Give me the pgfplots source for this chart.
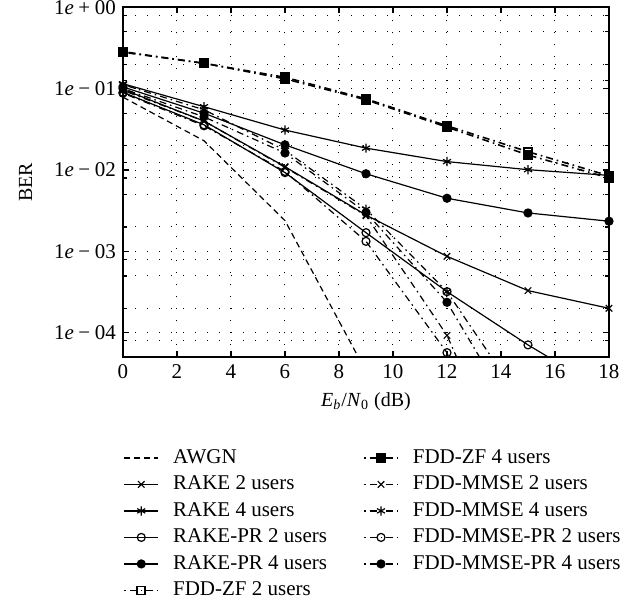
\documentclass[border=0pt]{standalone}
\usepackage{fontspec}
\setmainfont{Liberation Serif}
\usepackage{pgfplots}
\pgfplotsset{compat=1.18}
\newcommand{\ylab}[2]{1\textit{e}\kern.22em#1\kern.22em#2}
\begin{document}
\begin{tikzpicture}
\useasboundingbox (-61.5pt,-122.5pt) rectangle (257.5pt,178.65pt);
\begin{axis}[
  at={(0,0)}, anchor=south west,
  scale only axis, width=243pt, height=175pt,
  xmin=0, xmax=18, ymode=log, ymin=5e-5, ymax=1,
  xtick={0,2,...,18},
  ytick={1e-4,1e-3,1e-2,1e-1,1},
  yticklabels={\ylab{−}{04},\ylab{−}{03},\ylab{−}{02},\ylab{−}{01},\ylab{+}{00}},
  minor ytick={0.8,0.5,0.2,0.125,0.05,0.02,0.0125,0.008,0.005,0.002,8e-4,5e-4,2e-4,8e-5},
  xmajorgrids, ymajorgrids, yminorgrids,
  grid style={black, line width=0.5pt, dash pattern=on 0.5pt off 5.5pt},
  minor grid style={black, line width=0.5pt, dash pattern=on 0.5pt off 5.5pt},
  major tick length=3pt, minor tick length=2pt,
  tick style={black, line width=0.6pt},
  axis line style={line width=0.8pt},
  /pgf/number format/assume math mode=true,
  ticklabel style={font=\fontsize{10.5}{12}\selectfont},
  xlabel={\textit{E}\textsubscript{\textit{b}}/\textit{N}\textsubscript{0} (dB)},
  ylabel={BER},
  ylabel style={yshift=4pt},
  legend style={at={(0,-0.245)}, anchor=north west, xshift=-3pt, yshift=1pt, draw=none, fill=none,
    font=\fontsize{10.5}{12}\selectfont, row sep=0.8pt,
    /tikz/every odd column/.append style={column sep=5pt},
    /tikz/every even column/.append style={column sep=16pt}},
  legend columns=2, legend cell align=left,
  every axis plot/.append style={black, line width=0.6pt, mark size=2pt},
]
% AWGN
\addplot[dash pattern=on 3pt off 2pt] coordinates {(0,0.0786) (3,0.0229) (6,0.00239) (9,3.36e-5)};
\addlegendentry{AWGN}
% FDD-ZF 4
\addplot[dash pattern=on 0.8pt off 2pt on 3.5pt off 2pt, line width=0.8pt, mark=square*, mark size=2pt, mark options={solid}] coordinates {(0,0.280) (3,0.205) (6,0.132) (9,0.073) (12,0.0337) (15,0.0153) (18,0.0080)};
\addlegendentry{FDD-ZF 4 users}
% RAKE 2
\addplot[mark=x, mark size=2.3pt] coordinates {(0,0.098) (3,0.040) (6,0.011) (9,0.0028) (12,8.7e-4) (15,3.3e-4) (18,2.0e-4)};
\addlegendentry{RAKE 2 users}
% FDD-MMSE 2
\addplot[dash pattern=on 0.8pt off 2pt on 3.5pt off 2pt, mark=x, mark size=2.3pt, mark options={solid}] coordinates {(0,0.095) (3,0.040) (6,0.0108) (9,0.00275) (12,9.3e-5) (15,5.2e-7)};
\addlegendentry{FDD-MMSE 2 users}
% RAKE 4
\addplot[mark=asterisk, mark size=2.3pt] coordinates {(0,0.115) (3,0.060) (6,0.031) (9,0.0186) (12,0.0127) (15,0.0101) (18,0.0086)};
\addlegendentry{RAKE 4 users}
% FDD-MMSE 4
\addplot[dash pattern=on 0.8pt off 2pt on 3.5pt off 2pt, mark=asterisk, mark size=2.3pt, mark options={solid}] coordinates {(0,0.112) (3,0.055) (6,0.0175) (9,0.0033) (12,3.2e-4) (15,1.1e-5)};
\addlegendentry{FDD-MMSE 4 users}
% RAKE-PR 2
\addplot[mark=o] coordinates {(0,0.090) (3,0.036) (6,0.0093) (9,0.0017) (12,3.2e-4) (15,7.1e-5) (18,1.8e-5)};
\addlegendentry{RAKE-PR 2 users}
% FDD-MMSE-PR 2
\addplot[dash pattern=on 0.8pt off 2pt on 3.5pt off 2pt, mark=o, mark options={solid}] coordinates {(0,0.088) (3,0.035) (6,0.0096) (9,0.00133) (12,5.7e-5) (15,1e-7)};
\addlegendentry{FDD-MMSE-PR 2 users}
% RAKE-PR 4
\addplot[mark=*] coordinates {(0,0.105) (3,0.050) (6,0.0204) (9,0.0090) (12,0.0045) (15,0.00297) (18,0.00235)};
\addlegendentry{RAKE-PR 4 users}
% FDD-MMSE-PR 4
\addplot[dash pattern=on 0.8pt off 2pt on 3.5pt off 2pt, mark=*, mark options={solid}] coordinates {(0,0.100) (3,0.045) (6,0.0162) (9,0.0030) (12,2.37e-4) (15,5e-6)};
\addlegendentry{FDD-MMSE-PR 4 users}
% FDD-ZF 2
\addplot[dash pattern=on 0.8pt off 2pt on 3.5pt off 2pt, line width=0.8pt, mark=square, mark size=2pt, mark options={solid}] coordinates {(0,0.285) (3,0.205) (6,0.138) (9,0.075) (12,0.0350) (15,0.0168) (18,0.0085)};
\addlegendentry{FDD-ZF 2 users}
\end{axis}
\end{tikzpicture}
\end{document}
